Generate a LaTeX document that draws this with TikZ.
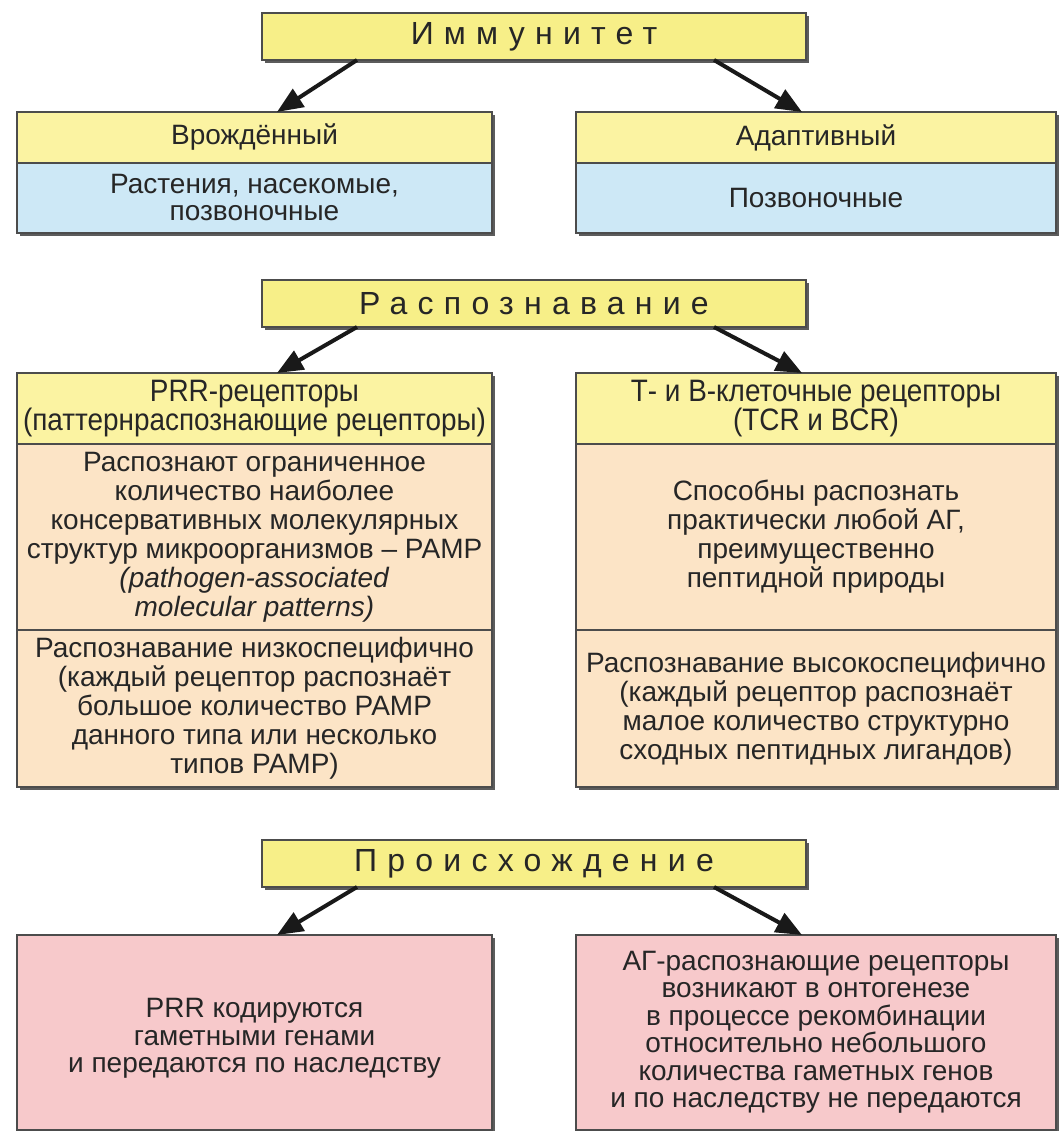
\documentclass[tikz,border=0pt]{standalone}
\usepackage{fontspec}
\setmainfont{Liberation Sans}
\newfontfamily\titlefont[LetterSpace=32]{Liberation Sans}
\newfontfamily\narrowfont[FakeStretch=0.9]{Liberation Sans}
\usetikzlibrary{arrows.meta,shadows}
\definecolor{ttl}{HTML}{F7EF88}
\definecolor{hdr}{HTML}{FBF3A2}
\definecolor{blu}{HTML}{CDE8F6}
\definecolor{pch}{HTML}{FCE4C6}
\definecolor{pnk}{HTML}{F7C9CB}
\definecolor{txt}{HTML}{262626}
\tikzset{
  box/.style={draw=black!70, line width=1.2pt, inner sep=0pt, outer sep=0pt,
    align=center, text=txt, font=\fontsize{28}{29}\selectfont,
    drop shadow={shadow xshift=3pt, shadow yshift=-3pt, fill=black!75, opacity=0.85}},
  titlebox/.style={box, fill=ttl, minimum width=544pt, minimum height=47pt,
    font=\titlefont\fontsize{32}{34}\selectfont},
  hdrbox/.style={box, fill=hdr, font=\narrowfont\fontsize{31}{28}\selectfont},
  arr/.style={line width=4pt, draw=black!90, -{Triangle[length=26pt,width=21pt]}}
}
\begin{document}
\begin{tikzpicture}[x=1pt,y=-1pt]
\useasboundingbox[fill=white] (0,0) rectangle (1059,1131);

% ---- Immunity
\node[titlebox] (t1) at (534,36.5) {Иммунитет};
\node[box, fill=hdr, minimum width=475pt, minimum height=51pt] (l1h) at (254.5,137.5) {Врождённый};
\node[box, fill=blu, minimum width=475pt, minimum height=70pt, font=\fontsize{28}{27}\selectfont] (l1b) at (254.5,198) {Растения, насекомые,\\позвоночные};
\node[box, fill=hdr, minimum width=480pt, minimum height=51pt] (r1h) at (816,137.5) {Адаптивный};
\node[box, fill=blu, minimum width=480pt, minimum height=70pt] (r1b) at (816,198) {Позвоночные};
\draw[arr] ([xshift=95pt]t1.south west) -- ([xshift=260pt]l1h.north west);
\draw[arr] ([xshift=-92pt]t1.south east) -- ([xshift=226pt]r1h.north west);

% ---- Recognition
\node[titlebox] (t2) at (534,303.5) {Распознавание};
\node[hdrbox, minimum width=475pt, minimum height=71pt] (l2h) at (254.5,408.5) {PRR-рецепторы\\(паттернраспознающие рецепторы)};
\node[box, fill=pch, minimum width=475pt, minimum height=186pt] (l2m) at (254.5,537) {Распознают ограниченное\\количество наиболее\\консервативных молекулярных\\структур микроорганизмов -- PAMP\\\textit{(pathogen-associated}\\\textit{molecular patterns)}};
\node[box, fill=pch, minimum width=475pt, minimum height=157pt] (l2b) at (254.5,708.5) {Распознавание низкоспецифично\\(каждый рецептор распознаёт\\большое количество PAMP\\данного типа или несколько\\типов PAMP)};
\node[hdrbox, minimum width=480pt, minimum height=71pt] (r2h) at (816,408.5) {Т- и В-клеточные рецепторы\\(TCR и BCR)};
\node[box, fill=pch, minimum width=480pt, minimum height=186pt] (r2m) at (816,537) {Способны распознать\\практически любой АГ,\\преимущественно\\пептидной природы};
\node[box, fill=pch, minimum width=480pt, minimum height=157pt] (r2b) at (816,708.5) {Распознавание высокоспецифично\\(каждый рецептор распознаёт\\малое количество структурно\\сходных пептидных лигандов)};
\draw[arr] ([xshift=95pt]t2.south west) -- ([xshift=260pt]l2h.north west);
\draw[arr] ([xshift=-92pt]t2.south east) -- ([xshift=226pt]r2h.north west);

% ---- Origin
\node[titlebox] (t3) at (534,863.5) {Происхождение};
\node[box, fill=pnk, minimum width=475pt, minimum height=195pt, font=\fontsize{28}{27.5}\selectfont] (l3) at (254.5,1032.5) {\mbox{}\\[4pt]PRR кодируются\\гаметными генами\\и передаются по наследству};
\node[box, fill=pnk, minimum width=480pt, minimum height=195pt, font=\fontsize{28}{27.5}\selectfont] (r3) at (816,1032.5) {АГ-распознающие рецепторы\\возникают в онтогенезе\\в процессе рекомбинации\\относительно небольшого\\количества гаметных генов\\и по наследству не передаются};
\draw[arr] ([xshift=95pt]t3.south west) -- ([xshift=260pt]l3.north west);
\draw[arr] ([xshift=-92pt]t3.south east) -- ([xshift=226pt]r3.north west);
\end{tikzpicture}
\end{document}
